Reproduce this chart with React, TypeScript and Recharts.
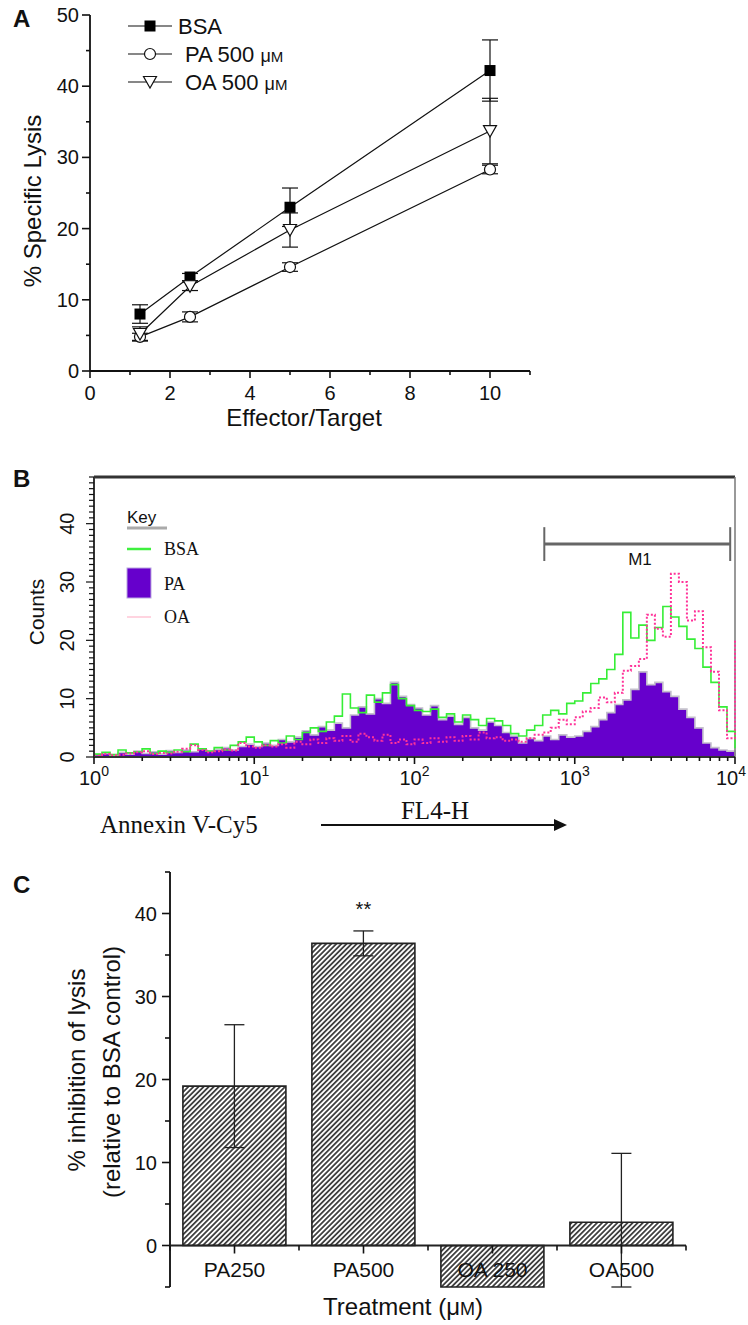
import React from "react";
import {
  LineChart,
  ComposedChart,
  BarChart,
  Line,
  Area,
  Bar,
  XAxis,
  YAxis,
  ErrorBar,
  ReferenceLine,
  LabelList,
} from "recharts";

const SANS = "'Liberation Sans', Arial, Helvetica, sans-serif";
const SERIF = "'Liberation Serif', 'Times New Roman', serif";
const INK = "#111";

// ---------- Panel A: specific lysis vs effector/target ratio ----------
const etRatios = [1.25, 2.5, 5, 10];
const bsaLysis = [8.0, 13.2, 23.0, 42.2];
const bsaLysisErr = [1.3, 0.5, 2.7, 4.3];
const paLysis = [4.8, 7.6, 14.6, 28.3];
const paLysisErr = [0.5, 0.7, 0.6, 0.6];
const oaLysis = [5.2, 11.9, 19.8, 33.7];
const oaLysisErr = [1.0, 0.6, 2.4, 4.6];
const lysisXTicks = [0, 1, 2, 3, 4, 5, 6, 7, 8, 9, 10, 11];
const lysisYTicks = [0, 5, 10, 15, 20, 25, 30, 35, 40, 45, 50];

// ---------- Panel B: Annexin V-Cy5 histogram (20 channels per decade, 10^0..10^4) ----------
const bsaCounts = [
  0.5, 0.8, 0.4, 1.2, 0.7, 0.9, 1.4, 0.6, 1.0, 0.8,
  1.2, 0.9, 2.2, 1.4, 1.0, 1.6, 1.2, 2.0, 2.6, 3.4,
  2.6, 2.0, 2.8, 2.4, 3.6, 3.0, 4.2, 5.0, 4.4, 6.0,
  7.0, 10.8, 8.4, 7.6, 10.6, 9.4, 11.0, 12.4, 10.0, 8.8,
  8.0, 7.8, 8.2, 6.8, 7.4, 6.0, 7.2, 6.4, 5.4, 6.6,
  6.2, 5.4, 4.0, 3.6, 4.6, 5.4, 7.2, 8.0, 7.4, 9.2,
  9.6, 11.0, 12.6, 13.4, 15.0, 17.6, 24.8, 20.4, 22.6, 20.0,
  22.2, 25.8, 24.0, 22.4, 20.2, 18.6, 15.4, 12.8, 8.6, 4.4,
  1.5,
];
const paCounts = [
  0.4, 0.6, 0.3, 0.8, 0.5, 1.0, 0.6, 0.9, 0.5, 1.1,
  0.8, 1.2, 0.9, 1.4, 1.0, 1.3, 1.6, 1.2, 1.8, 2.2,
  1.8, 2.4, 2.0, 3.0, 2.6, 3.4, 4.5, 3.8, 5.2, 4.6,
  5.8, 5.0, 7.2, 8.6, 7.4, 10.0, 9.2, 12.8, 10.4, 9.0,
  8.4, 7.2, 8.8, 6.4, 7.0, 5.6, 6.8, 5.0, 4.6, 6.0,
  5.4, 4.2, 3.6, 2.4, 3.2, 2.8, 3.6, 3.0, 3.8, 3.4,
  3.6, 4.4, 5.2, 6.4, 7.6, 9.0, 9.8, 11.6, 14.6, 12.4,
  12.8, 11.2, 10.4, 8.2, 6.8, 5.0, 2.4, 1.6, 1.2, 1.0,
  0,
];
const oaCounts = [
  0.2, 0.5, 0.3, 0.4, 0.6, 0.8, 1.0, 0.5, 0.7, 0.6,
  0.9, 1.4, 2.0, 1.2, 0.8, 1.0, 1.3, 1.1, 2.4, 1.8,
  1.6, 2.0, 1.8, 2.2, 1.6, 2.6, 2.2, 3.0, 2.4, 3.2,
  2.8, 3.6, 2.6, 4.0, 3.4, 2.8, 3.8, 2.4, 3.0, 2.2,
  3.0, 2.4, 3.2, 2.6, 3.4, 2.8, 3.6, 3.0, 4.2, 3.2,
  3.4, 2.8, 3.0, 2.6, 3.2, 3.8, 4.2, 5.0, 6.4, 5.6,
  6.8, 7.8, 8.4, 10.2, 9.4, 11.0, 14.8, 15.6, 16.8, 24.4,
  22.0, 20.6, 31.4, 30.0, 23.4, 25.0, 18.8, 14.6, 8.0, 3.2,
  20.0,
];
const CH_PER_DECADE = 20;
const decades = [0, 1, 2, 3, 4];
const m1Gate = [56.2, 79.4]; // channels
const m1Level = 36.5;
const countsMax = 48;

// ---------- Panel C: % inhibition of lysis ----------
const treatments = ["PA250", "PA500", "OA 250", "OA500"];
const inhibition = [19.2, 36.4, -5.0, 2.8];
const inhibitionErr: (number | number[])[] = [7.4, 1.5, 0, [7.8, 8.3]];
const significance = ["", "**", "", ""];
const inhibitionTicks = [-5, 0, 5, 10, 15, 20, 25, 30, 35, 40, 45];

// ---------- shared tick renderers ----------
function BottomTick(props: any) {
  const { x, y, payload, isMajor, majorLen, minorLen, fontSize, gap, render, strokeW, labelShift } = props;
  const v = payload.value;
  const major = isMajor(v);
  const lx = x + (labelShift ? labelShift(v) : 0);
  return (
    <g>
      <line x1={x} x2={x} y1={y} y2={y + (major ? majorLen : minorLen)} stroke={INK} strokeWidth={strokeW || 1.6} />
      {major && (
        <text x={lx} y={y + gap} textAnchor="middle" fontSize={fontSize} fontFamily={SANS} fill={INK}>
          {render ? render(v) : v}
        </text>
      )}
    </g>
  );
}

function LeftTick(props: any) {
  const { x, y, payload, isMajor, majorLen, minorLen, fontSize, gap, rotated, strokeW } = props;
  const v = payload.value;
  const major = isMajor(v);
  return (
    <g>
      <line x1={x - (major ? majorLen : minorLen)} x2={x} y1={y} y2={y} stroke={INK} strokeWidth={strokeW || 1.6} />
      {major &&
        (rotated ? (
          <text
            x={x - gap}
            y={y}
            dy="0.35em"
            textAnchor="middle"
            fontSize={fontSize}
            fontFamily={SANS}
            fill={INK}
            transform={`rotate(-90 ${x - gap} ${y})`}
          >
            {v}
          </text>
        ) : (
          <text x={x - gap} y={y} dy="0.35em" textAnchor="end" fontSize={fontSize} fontFamily={SANS} fill={INK}>
            {v}
          </text>
        ))}
    </g>
  );
}

// ---------- markers ----------
const SquareDot = (p: any) => (
  <rect key={`s${p.index}`} x={p.cx - 5.5} y={p.cy - 5.5} width={11} height={11} fill="#000" />
);
const CircleDot = (p: any) => (
  <circle key={`c${p.index}`} cx={p.cx} cy={p.cy} r={5.5} fill="#fff" stroke={INK} strokeWidth={1.2} />
);
const TriangleDot = (p: any) => (
  <path
    key={`t${p.index}`}
    d={`M${p.cx - 6.5},${p.cy - 5.5} L${p.cx + 6.5},${p.cy - 5.5} L${p.cx},${p.cy + 6} Z`}
    fill="#fff"
    stroke={INK}
    strokeWidth={1.2}
  />
);

function PanelA() {
  const data = etRatios.map((et, i) => ({
    et,
    bsa: bsaLysis[i],
    bsaErr: bsaLysisErr[i],
    pa: paLysis[i],
    paErr: paLysisErr[i],
    oa: oaLysis[i],
    oaErr: oaLysisErr[i],
  }));
  return (
    <LineChart width={560} height={440} data={data} margin={{ top: 15, right: 30, bottom: 39, left: 30 }}>
      <XAxis
        dataKey="et"
        type="number"
        domain={[0, 11]}
        ticks={lysisXTicks}
        interval={0}
        tickSize={0}
        tickMargin={0}
        height={30}
        axisLine={{ stroke: INK, strokeWidth: 1.8 }}
        tick={(p: any) => (
          <BottomTick {...p} isMajor={(v: number) => v % 2 === 0} majorLen={7} minorLen={4} fontSize={20} gap={29} />
        )}
      />
      <YAxis
        type="number"
        domain={[0, 50]}
        ticks={lysisYTicks}
        interval={0}
        tickSize={0}
        tickMargin={0}
        width={60}
        axisLine={{ stroke: INK, strokeWidth: 1.8 }}
        tick={(p: any) => (
          <LeftTick {...p} isMajor={(v: number) => v % 10 === 0} majorLen={8} minorLen={4} fontSize={20} gap={11} />
        )}
      />
      <Line dataKey="bsa" stroke={INK} strokeWidth={1.2} dot={SquareDot} isAnimationActive={false}>
        <ErrorBar dataKey="bsaErr" width={8} stroke={INK} strokeWidth={1.2} direction="y" />
      </Line>
      <Line dataKey="pa" stroke={INK} strokeWidth={1.2} dot={CircleDot} isAnimationActive={false}>
        <ErrorBar dataKey="paErr" width={8} stroke={INK} strokeWidth={1.2} direction="y" />
      </Line>
      <Line dataKey="oa" stroke={INK} strokeWidth={1.2} dot={TriangleDot} isAnimationActive={false}>
        <ErrorBar dataKey="oaErr" width={8} stroke={INK} strokeWidth={1.2} direction="y" />
      </Line>
    </LineChart>
  );
}

function PanelB() {
  const data = paCounts.map((pa, ch) => ({ ch, pa, bsa: bsaCounts[ch], oa: oaCounts[ch] }));
  const chMax = CH_PER_DECADE * 4;
  const xTicks: number[] = [];
  decades.forEach((d) => {
    xTicks.push(d * CH_PER_DECADE);
    if (d < 4) [2, 3, 4, 5, 6, 7, 8, 9].forEach((k) => xTicks.push(CH_PER_DECADE * (d + Math.log10(k))));
  });
  const yTicks = Array.from({ length: countsMax + 1 }, (_, i) => i);
  return (
    <ComposedChart width={748} height={400} data={data} margin={{ top: 17, right: 13, bottom: 63, left: 54 }}>
      <XAxis
        dataKey="ch"
        type="number"
        domain={[0, chMax]}
        ticks={xTicks}
        interval={0}
        tickSize={0}
        tickMargin={0}
        height={40}
        axisLine={{ stroke: "#333", strokeWidth: 2 }}
        tick={(p: any) => (
          <BottomTick
            {...p}
            isMajor={(v: number) => Math.abs(v % CH_PER_DECADE) < 1e-6}
            majorLen={7}
            minorLen={4}
            fontSize={20}
            gap={28}
            labelShift={(v: number) => (v === chMax ? -4 : 0)}
            render={(v: number) => (
              <>
                <tspan>10</tspan>
                <tspan dy={-9} fontSize={14}>
                  {Math.round(v / CH_PER_DECADE)}
                </tspan>
              </>
            )}
          />
        )}
      />
      <YAxis
        type="number"
        domain={[0, countsMax]}
        ticks={yTicks}
        interval={0}
        tickSize={0}
        tickMargin={0}
        width={40}
        axisLine={{ stroke: "#333", strokeWidth: 2 }}
        tick={(p: any) => (
          <LeftTick
            {...p}
            isMajor={(v: number) => v % 10 === 0}
            majorLen={8}
            minorLen={5}
            fontSize={20}
            gap={27}
            rotated
            strokeW={1.2}
          />
        )}
      />
      <ReferenceLine y={countsMax} stroke="#333" strokeWidth={3} />
      <ReferenceLine x={chMax} stroke="#777" strokeWidth={1.5} />
      <Line
        dataKey="bsa"
        type="stepAfter"
        stroke="#36ee36"
        strokeWidth={1.6}
        dot={false}
        isAnimationActive={false}
      />
      <Area
        dataKey="pa"
        type="stepAfter"
        stroke="#c4c0cc"
        strokeWidth={1.6}
        fill="#6600cc"
        fillOpacity={1}
        isAnimationActive={false}
      />
      <Line
        dataKey="oa"
        type="stepAfter"
        stroke="#ff3399"
        strokeWidth={2}
        strokeDasharray="2 2"
        dot={false}
        isAnimationActive={false}
      />
      <ReferenceLine
        segment={[
          { x: m1Gate[0], y: m1Level },
          { x: m1Gate[1], y: m1Level },
        ]}
        stroke="#666"
        strokeWidth={3}
      />
      <ReferenceLine
        segment={[
          { x: m1Gate[0], y: m1Level - 2.9 },
          { x: m1Gate[0], y: m1Level + 2.9 },
        ]}
        stroke="#666"
        strokeWidth={2}
      />
      <ReferenceLine
        segment={[
          { x: m1Gate[1], y: m1Level - 2.9 },
          { x: m1Gate[1], y: m1Level + 2.9 },
        ]}
        stroke="#666"
        strokeWidth={2}
      />
    </ComposedChart>
  );
}

function PanelC() {
  const data = treatments.map((name, i) => ({
    name,
    value: inhibition[i],
    err: inhibitionErr[i],
    sig: significance[i],
  }));
  const width = 748;
  const height = 475;
  const margin = { top: 22, right: 62, bottom: 18, left: 110 };
  const yAxisW = 60;
  const xAxisH = 20;
  const plotW = width - margin.left - margin.right - yAxisW;
  const plotH = height - margin.top - margin.bottom - xAxisH;
  const yMin = -5;
  const yMax = 45;
  const zeroOffset = (plotH * (0 - yMin)) / (yMax - yMin);
  const halfBand = plotW / treatments.length / 2;
  const CatTick = (p: any) => {
    const zy = p.y - zeroOffset;
    const last = p.payload.value === treatments[treatments.length - 1];
    return (
      <g>
        <line x1={p.x} x2={p.x} y1={zy} y2={zy + 8} stroke={INK} strokeWidth={1.6} />
        <line x1={p.x - halfBand} x2={p.x - halfBand} y1={zy} y2={zy + 5} stroke={INK} strokeWidth={1.6} />
        {last && <line x1={p.x + halfBand} x2={p.x + halfBand} y1={zy} y2={zy + 5} stroke={INK} strokeWidth={1.6} />}
        <text x={p.x} y={zy + 31} textAnchor="middle" fontSize={21} fontFamily={SANS} fill={INK}>
          {p.payload.value}
        </text>
      </g>
    );
  };
  return (
    <BarChart width={width} height={height} data={data} margin={margin} barCategoryGap="10%">
      <XAxis
        dataKey="name"
        type="category"
        interval={0}
        tickSize={0}
        tickMargin={0}
        height={xAxisH}
        axisLine={false}
        tick={CatTick}
      />
      <YAxis
        type="number"
        domain={[yMin, yMax]}
        ticks={inhibitionTicks}
        interval={0}
        tickSize={0}
        tickMargin={0}
        width={yAxisW}
        axisLine={{ stroke: "#222", strokeWidth: 2 }}
        tick={(p: any) => (
          <LeftTick {...p} isMajor={(v: number) => v % 10 === 0} majorLen={8} minorLen={5} fontSize={20} gap={13} />
        )}
      />
      <Bar dataKey="value" fill="url(#hatchC)" stroke="#222" strokeWidth={1.6} isAnimationActive={false}>
        <ErrorBar dataKey="err" width={10} stroke="#222" strokeWidth={1.3} direction="y" />
        <LabelList dataKey="sig" position="top" offset={27} fontSize={20} fill={INK} fontFamily={SANS} />
      </Bar>
      <ReferenceLine y={0} stroke="#222" strokeWidth={2} />
    </BarChart>
  );
}

function Annotations() {
  const t = { fontFamily: SANS, fill: INK } as const;
  const legendA = [
    { label: "BSA", unit: false, y: 26, tx: 178, Marker: SquareDot },
    { label: "PA 500 ", unit: true, y: 54, tx: 185, Marker: CircleDot },
    { label: "OA 500 ", unit: true, y: 82, tx: 185, Marker: TriangleDot },
  ];
  return (
    <svg width={748} height={1325} style={{ position: "absolute", left: 0, top: 0, pointerEvents: "none" }}>
      {/* panel letters */}
      <text x={13} y={27} fontSize={24} fontWeight="bold" {...t}>A</text>
      <text x={13} y={487} fontSize={24} fontWeight="bold" {...t}>B</text>
      <text x={13} y={893} fontSize={24} fontWeight="bold" {...t}>C</text>

      {/* panel A legend + titles */}
      {legendA.map((e, i) => (
        <g key={i}>
          <line x1={128} x2={172} y1={e.y} y2={e.y} stroke={INK} strokeWidth={1.2} />
          <e.Marker cx={150} cy={e.y} index={i} />
          <text x={e.tx} y={e.y + 7.5} fontSize={22} {...t}>
            {e.label}
            {e.unit && (
              <>
                <tspan fontSize={18}>μ</tspan>
                <tspan fontSize={15}>M</tspan>
              </>
            )}
          </text>
        </g>
      ))}
      <text x={33} y={201} dy="0.35em" textAnchor="middle" fontSize={24} transform="rotate(-90 33 201)" {...t}>
        % Specific Lysis
      </text>
      <text x={304} y={426} textAnchor="middle" fontSize={24} {...t}>
        Effector/Target
      </text>

      {/* panel B key, gate label, axis titles */}
      <text x={127} y={523} fontSize={17} {...t}>Key</text>
      <line x1={127} x2={167} y1={528} y2={528} stroke="#aaa" strokeWidth={3} />
      <line x1={127} x2={151} y1={549} y2={549} stroke="#3ef03e" strokeWidth={2.5} />
      <text x={164} y={555} fontSize={18} fontFamily={SERIF} fill={INK}>BSA</text>
      <rect x={127} y={568} width={24} height={30} fill="#6600cc" stroke="#b9a6e0" strokeWidth={1} />
      <text x={164} y={590} fontSize={18} fontFamily={SERIF} fill={INK}>PA</text>
      <line x1={127} x2={151} y1={617} y2={617} stroke="#ffb8cc" strokeWidth={1.2} />
      <text x={164} y={623} fontSize={18} fontFamily={SERIF} fill={INK}>OA</text>
      <text x={640} y={565} textAnchor="middle" fontSize={17} {...t}>M1</text>
      <text x={37} y={612} dy="0.35em" textAnchor="middle" fontSize={21} transform="rotate(-90 37 612)" {...t}>
        Counts
      </text>
      <text x={100} y={833} fontSize={25} fontFamily={SERIF} fill={INK}>Annexin V-Cy5</text>
      <text x={435} y={819} textAnchor="middle" fontSize={25} fontFamily={SERIF} fill={INK}>FL4-H</text>
      <line x1={321} x2={556} y1={825} y2={825} stroke={INK} strokeWidth={2} />
      <path d="M554,819 L567,825 L554,831 Z" fill={INK} />

      {/* panel C titles */}
      <text x={77} y={1070} dy="0.35em" textAnchor="middle" fontSize={24} transform="rotate(-90 77 1070)" {...t}>
        % inhibition of lysis
      </text>
      <text x={112} y={1072} dy="0.35em" textAnchor="middle" fontSize={24} transform="rotate(-90 112 1072)" {...t}>
        (relative to BSA control)
      </text>
      <text x={403} y={1315} textAnchor="middle" fontSize={24} {...t}>
        Treatment (μ<tspan fontSize={18}>M</tspan>)
      </text>
    </svg>
  );
}

export default function App() {
  return (
    <div style={{ position: "absolute", left: 0, top: 0, width: 748, height: 1325, background: "#fff", fontFamily: SANS }}>
      <svg width={0} height={0} style={{ position: "absolute" }}>
        <defs>
          <pattern id="hatchC" width={3.6} height={3.6} patternUnits="userSpaceOnUse" patternTransform="rotate(45)">
            <rect width={3.6} height={3.6} fill="#fff" />
            <line x1={1.8} y1={0} x2={1.8} y2={3.6} stroke="#1a1a1a" strokeWidth={1.5} />
          </pattern>
        </defs>
      </svg>
      <div style={{ position: "absolute", left: 0, top: 0 }}>
        <PanelA />
      </div>
      <div style={{ position: "absolute", left: 0, top: 460 }}>
        <PanelB />
      </div>
      <div style={{ position: "absolute", left: 0, top: 850 }}>
        <PanelC />
      </div>
      <Annotations />
    </div>
  );
}
